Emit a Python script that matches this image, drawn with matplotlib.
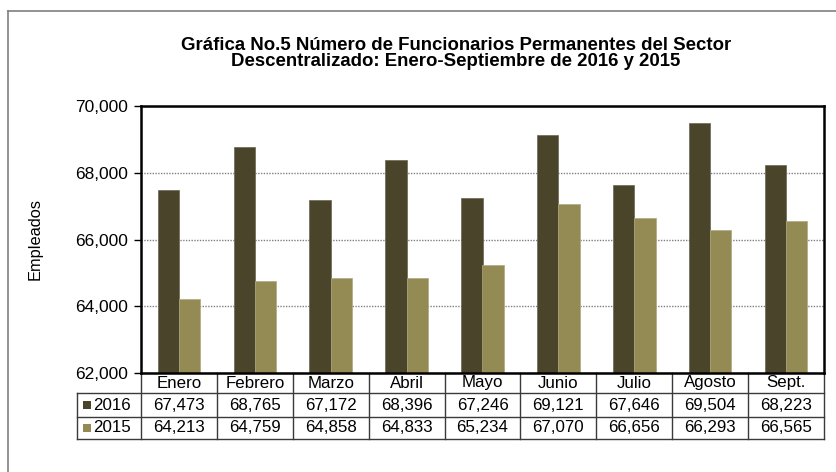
import matplotlib
matplotlib.use("Agg")
import matplotlib.pyplot as plt
from matplotlib.lines import Line2D
from matplotlib.patches import Rectangle
import numpy as np

plt.rcParams['font.family'] = ['Liberation Sans', 'DejaVu Sans']

months = ["Enero", "Febrero", "Marzo", "Abril", "Mayo", "Junio", "Julio", "Agosto", "Sept."]
series_names = ["2016", "2015"]
values_2016 = [67473, 68765, 67172, 68396, 67246, 69121, 67646, 69504, 68223]
values_2015 = [64213, 64759, 64858, 64833, 65234, 67070, 66656, 66293, 66565]
colors = ["#4a442a", "#948a54"]
yticks = [62000, 64000, 66000, 68000, 70000]
title = "Gráfica No.5 Número de Funcionarios Permanentes del Sector\nDescentralizado: Enero-Septiembre de 2016 y 2015"

W, H = 836, 472
fig = plt.figure(figsize=(W / 100, H / 100), dpi=100)
L, R, T, B = 141, 824, 106, 373
ax = fig.add_axes([L / W, 1 - B / H, (R - L) / W, (B - T) / H])

x = np.arange(len(months))
bw = 0.28
ax.bar(x - bw / 2, values_2016, bw, color=colors[0], edgecolor="#6b6650", linewidth=0.5, zorder=3)
ax.bar(x + bw / 2, values_2015, bw, color=colors[1], edgecolor="#b0a880", linewidth=0.5, zorder=3)

ax.set_xlim(-0.5, len(months) - 0.5)
ax.set_ylim(yticks[0], yticks[-1])
ax.set_yticks(yticks)
ax.set_yticklabels([f"{v:,}" for v in yticks], fontsize=12.5)
ax.set_xticks([])
ax.tick_params(axis='y', direction='out', length=5, width=1, pad=4)
ax.yaxis.grid(True, linestyle=(0, (1, 1)), color="#808080", linewidth=1, zorder=0)
ax.set_axisbelow(True)
for s in ax.spines.values():
    s.set_linewidth(1.8)
    s.set_color("black")
    s.set_zorder(5)

fig.text(456 / W, 1 - 53.5 / H, title, ha="center", va="center", fontsize=13.4,
         fontweight="bold", linespacing=1.0)
fig.text(35 / W, 1 - (T + B) / 2 / H, "Empleados", rotation=90, ha="center", va="center", fontsize=11.8)

# data table below axes
tr = ax.transAxes
ph = B - T
pw = R - L
y_head = -20 / ph
y_r1 = -44 / ph
y_r2 = -66 / ph
x_lab = (77 - L) / pw
ncol = len(months)
lc = "#3a3a3a"
lw = 1.0

def hline(y, x0, x1):
    ax.add_line(Line2D([x0, x1], [y, y], transform=tr, color=lc, lw=lw, clip_on=False))

def vline(xx, y0, y1):
    ax.add_line(Line2D([xx, xx], [y0, y1], transform=tr, color=lc, lw=lw, clip_on=False))

hline(y_head, x_lab, 1)
hline(y_r1, x_lab, 1)
hline(y_r2, x_lab, 1)
for i in range(ncol + 1):
    vline(i / ncol, 0, y_r2)
vline(x_lab, y_head, y_r2)

fs_tab = 12.2
for i, m in enumerate(months):
    ax.text((i + 0.5) / ncol, y_head / 2, m, transform=tr, ha="center", va="center", fontsize=fs_tab)
    ax.text((i + 0.5) / ncol, (y_head + y_r1) / 2, f"{values_2016[i]:,}", transform=tr,
            ha="center", va="center", fontsize=fs_tab)
    ax.text((i + 0.5) / ncol, (y_r1 + y_r2) / 2, f"{values_2015[i]:,}", transform=tr,
            ha="center", va="center", fontsize=fs_tab)

sq = 8
for name, col, (ya, yb) in zip(series_names, colors, [(y_head, y_r1), (y_r1, y_r2)]):
    yc = (ya + yb) / 2
    ax.add_patch(Rectangle(((83 - L) / pw, yc - (sq / 2) / ph), sq / pw, sq / ph, transform=tr,
                           facecolor=col, edgecolor="none", clip_on=False))
    ax.text((93 - L) / pw, yc, name, transform=tr, ha="left", va="center", fontsize=fs_tab)

# outer chart border (left and top visible)
fig.add_artist(Line2D([8 / W, 8 / W], [0, 1 - 11 / H], transform=fig.transFigure, color="#7f7f7f", lw=1.2))
fig.add_artist(Line2D([8 / W, 1], [1 - 11 / H, 1 - 11 / H], transform=fig.transFigure, color="#7f7f7f", lw=1.2))

fig.savefig("out.png", dpi=100)
